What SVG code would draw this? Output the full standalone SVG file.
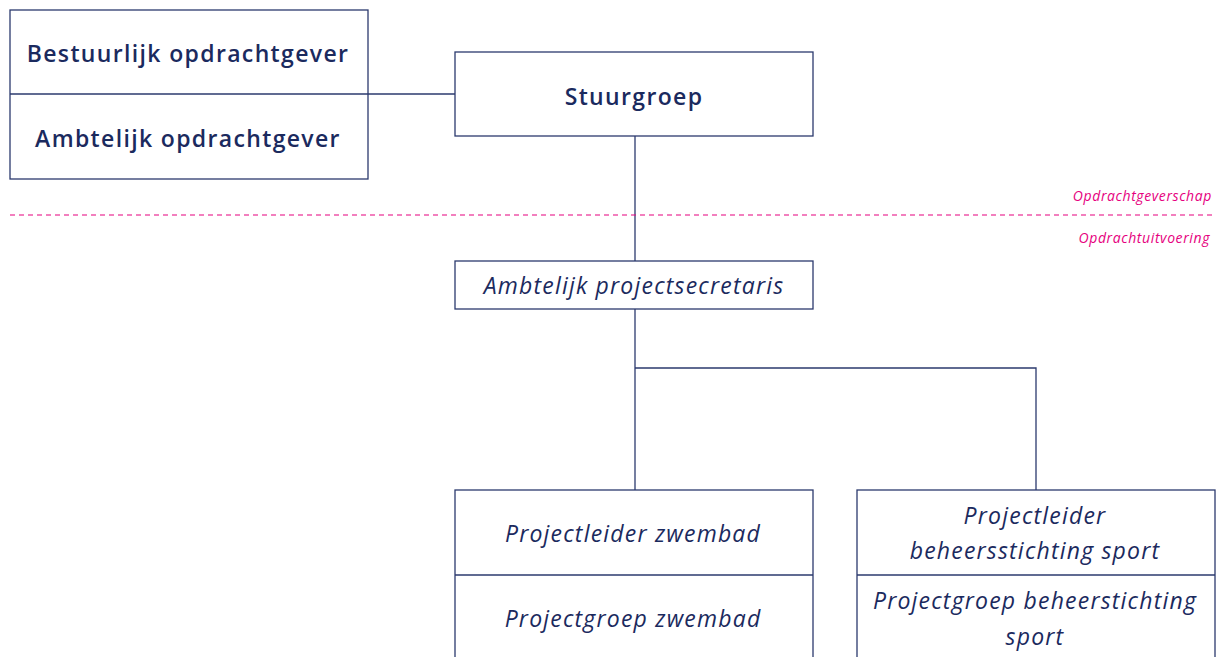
<svg xmlns="http://www.w3.org/2000/svg" width="1228" height="657" viewBox="0 0 1228 657">
<style>
.box{fill:#fff;stroke:#2b3a6e;stroke-width:1.3}
.ln{fill:none;stroke:#2b3a6e;stroke-width:1.3}
.b{font-family:"Open Sans","Liberation Sans",sans-serif;font-weight:600;font-size:23px;letter-spacing:1.35px;fill:#1b2a5e;text-anchor:middle}
.i{font-family:"Open Sans","Liberation Sans",sans-serif;font-style:italic;font-size:23px;letter-spacing:1.2px;fill:#1b2a5e;text-anchor:middle}
.p{font-family:"Open Sans","Liberation Sans",sans-serif;font-style:italic;font-size:14px;letter-spacing:0.6px;fill:#e6007e;text-anchor:end}
</style>
<rect width="1228" height="657" fill="#fff"/>
<g id="connectors">
<line class="ln" x1="368" y1="94" x2="455" y2="94"/>
<line class="ln" x1="635" y1="136" x2="635" y2="261"/>
<polyline class="ln" points="635,309 635,490"/>
<polyline class="ln" points="635,368 1036,368 1036,490"/>
</g>
<line x1="10" y1="215" x2="1212" y2="215" stroke="#e6007e" stroke-width="1.2" stroke-dasharray="5,4"/>
<text class="p" x="1212" y="201">Opdrachtgeverschap</text>
<text class="p" x="1210" y="243">Opdrachtuitvoering</text>
<g id="opdrachtgever">
<rect class="box" x="10" y="10" width="358" height="169"/>
<line class="ln" x1="10" y1="94" x2="368" y2="94"/>
<text class="b" x="188" y="62">Bestuurlijk opdrachtgever</text>
<text class="b" x="188" y="147">Ambtelijk opdrachtgever</text>
</g>
<g id="stuurgroep">
<rect class="box" x="455" y="52" width="358" height="84"/>
<text class="b" x="634" y="105">Stuurgroep</text>
</g>
<g id="secretaris">
<rect class="box" x="455" y="261" width="358" height="48"/>
<text class="i" x="634" y="294">Ambtelijk projectsecretaris</text>
</g>
<g id="zwembad">
<rect class="box" x="455" y="490" width="358" height="180"/>
<line class="ln" x1="455" y1="575" x2="813" y2="575"/>
<text class="i" x="633" y="542">Projectleider zwembad</text>
<text class="i" x="633" y="627">Projectgroep zwembad</text>
</g>
<g id="sport">
<rect class="box" x="857" y="490" width="358" height="180"/>
<line class="ln" x1="857" y1="575" x2="1215" y2="575"/>
<text class="i" x="1035" y="524">Projectleider</text>
<text class="i" x="1035" y="559">beheersstichting sport</text>
<text class="i" x="1035" y="609">Projectgroep beheerstichting</text>
<text class="i" x="1035" y="645">sport</text>
</g>
</svg>
